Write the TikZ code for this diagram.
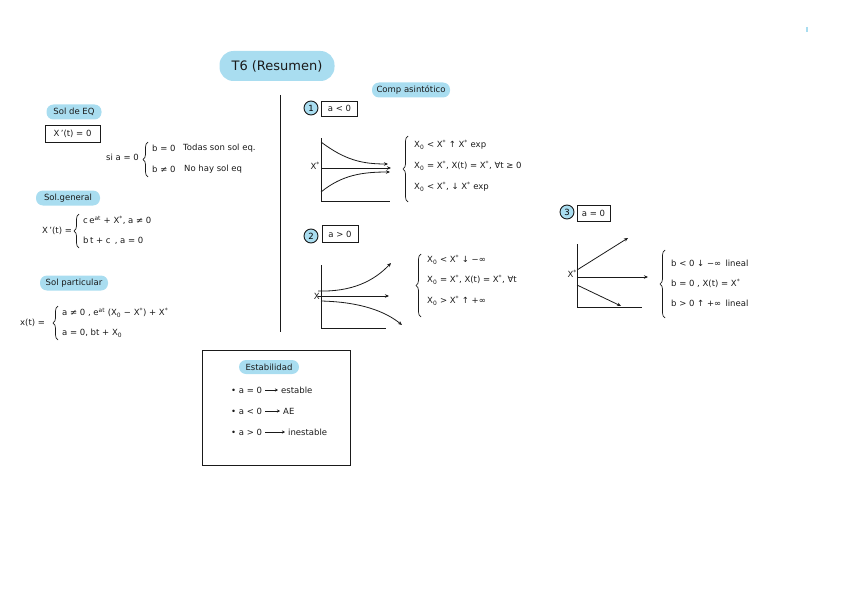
\documentclass[tikz,border=0pt]{standalone}
\usepackage{fontspec}
\setmainfont{DejaVu Sans}
\usetikzlibrary{decorations.pathreplacing,arrows.meta}
\definecolor{hl}{HTML}{A9DDF0}
\definecolor{ink}{HTML}{1A1A1A}
\tikzset{
  txt/.style={font=\fontsize{8.5}{10}\selectfont, anchor=west, inner sep=0pt, text=ink},
  hlbox/.style={fill=hl, rounded corners=7pt, inner sep=0pt, font=\fontsize{8.5}{10}\selectfont, text=ink},
  framebox/.style={draw=ink, line width=0.9pt, inner sep=0pt, font=\fontsize{8.5}{10}\selectfont, text=ink},
  numc/.style={circle, draw=ink, fill=hl, line width=0.9pt, inner sep=0pt, minimum size=14pt, font=\fontsize{8.5}{10}\selectfont},
  ax/.style={draw=ink, line width=0.9pt},
  crv/.style={draw=ink, line width=0.8pt, -{Stealth[length=4pt,width=3.5pt]}},
  brc/.style={draw=ink, decorate, decoration={brace, amplitude=5pt}, line width=0.7pt},
  arr/.style={draw=ink, line width=0.6pt, -{Stealth[length=3pt,width=3pt]}}
}
\begin{document}
\begin{tikzpicture}[x=1pt,y=-1pt]
\useasboundingbox (0,0) rectangle (848,599);

% title
\node[hlbox, minimum width=115pt, minimum height=30pt, rounded corners=14pt, font=\fontsize{13}{15}\selectfont] (title) at (277,66) {T6 (Resumen)};
\draw[hl, line width=1.2pt] (807,27) -- (807,32);

% left column
\node[hlbox, minimum width=55pt, minimum height=15pt] (soleq) at (74,112) {Sol de EQ};
\node[framebox, minimum width=55pt, minimum height=17pt] (xpbox) at (72.5,133.5) {X\,'(t) = 0};
\node[txt] (sia) at (106,157) {si a = 0};
\draw[brc] (148,177) -- (148,142);
\node[txt] (b0) at (152,148) {b = 0};
\node[txt] (todas) at (183,148) {Todas son sol eq.};
\node[txt] (bn0) at (152,169) {b ≠ 0};
\node[txt] (nohay) at (184,169) {No hay sol eq};

\node[hlbox, minimum width=64pt, minimum height=15pt] (solgen) at (68,198) {Sol.general};
\node[txt] (xpt) at (42,231) {X\,'(t) =};
\draw[brc] (79,248) -- (79,214);
\node[txt] (gen1) at (83,220) {c\,e\textsuperscript{at} + X\textsuperscript{*}, a ≠ 0};
\node[txt] (gen2) at (83,241) {b\,t + c\enspace, a = 0};

\node[hlbox, minimum width=68pt, minimum height=15pt] (solpar) at (74,283) {Sol particular};
\node[txt] (xt) at (20,323) {x(t) =};
\draw[brc] (58,340) -- (58,306);
\node[txt] (par1) at (62,313) {a ≠ 0 , e\textsuperscript{at} (X\textsubscript{0} − X\textsuperscript{*}) + X\textsuperscript{*}};
\node[txt] (par2) at (62,333) {a = 0, bt + X\textsubscript{0}};

% divider
\coordinate (dtop) at (280,95);
\coordinate (dbot) at (280,332);
\draw[ink, line width=1pt] (dtop) -- (dbot);

% comp asintotico
\node[hlbox, minimum width=78pt, minimum height=15pt] (comp) at (411,90) {Comp asintótico};

% case 1
\node[numc] (c1) at (311,108) {1};
\node[framebox, minimum width=36pt, minimum height=15pt] (b1) at (339.5,108.5) {a < 0};
\coordinate (g1o) at (321,201);
\draw[ax] (321,138) -- (g1o) -- (390,201);
\draw[crv] (321,142) .. controls (345,160) and (362,164) .. (388,164);
\draw[crv] (321,168) -- (391,168);
\draw[crv] (321,192) .. controls (342,175) and (362,172) .. (390,172);
\node[txt, anchor=east] (xs1) at (320,166) {X\textsuperscript{*}};
\draw[brc] (408,202) -- (408,136);
\node[txt] (l11) at (414,145) {X\textsubscript{0} < X\textsuperscript{*} ↑ X\textsuperscript{*} exp};
\node[txt] (l12) at (414,166) {X\textsubscript{0} = X\textsuperscript{*}, X(t) = X\textsuperscript{*}, ∀t ≥ 0};
\node[txt] (l13) at (414,187) {X\textsubscript{0} < X\textsuperscript{*}, ↓ X\textsuperscript{*} exp};

% case 2
\node[numc] (c2) at (311,236) {2};
\node[framebox, minimum width=36pt, minimum height=17pt] (b2) at (340,234) {a > 0};
\coordinate (g2o) at (321,328);
\draw[ax] (321,265) -- (g2o) -- (386,328);
\draw[crv] (318,291) .. controls (352,292) and (374,281) .. (391,263);
\draw[crv] (318,296) -- (389,296);
\draw[crv] (321,301) .. controls (362,302) and (386,312) .. (402,325);
\node[txt, anchor=east] (xs2) at (320,296) {X};
\draw[brc] (421,317) -- (421,254);
\node[txt] (l21) at (427,260) {X\textsubscript{0} < X\textsuperscript{*} ↓ −∞};
\node[txt] (l22) at (427,280) {X\textsubscript{0} = X\textsuperscript{*}, X(t) = X\textsuperscript{*}, ∀t};
\node[txt] (l23) at (427,301) {X\textsubscript{0} > X\textsuperscript{*} ↑ +∞};

% case 3
\node[numc] (c3) at (567,212) {3};
\node[framebox, minimum width=33pt, minimum height=16pt] (b3) at (593.5,213.5) {a = 0};
\coordinate (g3o) at (577,307);
\draw[ax] (577,244) -- (g3o) -- (642,307);
\draw[crv] (577,270) -- (628,238);
\draw[crv] (577,277) -- (648,277);
\draw[crv] (577,285) -- (621,306);
\node[txt, anchor=east] (xs3) at (577,274) {X\textsuperscript{*}};
\draw[brc] (665,318) -- (665,250);
\node[txt] (l31) at (671,263) {b < 0 ↓ −∞\enspace lineal};
\node[txt] (l32) at (671,283) {b = 0 , X(t) = X\textsuperscript{*}};
\node[txt] (l33) at (671,303) {b > 0 ↑ +∞\enspace lineal};

% stability box
\node[draw=ink, line width=0.9pt, minimum width=148pt, minimum height=115pt, inner sep=0pt] (stab) at (276,407.5) {};
\node[hlbox, minimum width=60pt, minimum height=14pt] (estab) at (269,367) {Estabilidad};
\node[txt] (s1a) at (231,390) {• a = 0};
\node[txt] (s1b) at (281,390) {estable};
\draw[arr] (s1a.east) ++(3,0) -- ([xshift=-3pt]s1b.west);
\node[txt] (s2a) at (231,411) {• a < 0};
\node[txt] (s2b) at (283,411) {AE};
\draw[arr] (s2a.east) ++(3,0) -- ([xshift=-3pt]s2b.west);
\node[txt] (s3a) at (231,432) {• a > 0};
\node[txt] (s3b) at (288,432) {inestable};
\draw[arr] (s3a.east) ++(3,0) -- ([xshift=-3pt]s3b.west);
\end{tikzpicture}
\end{document}
